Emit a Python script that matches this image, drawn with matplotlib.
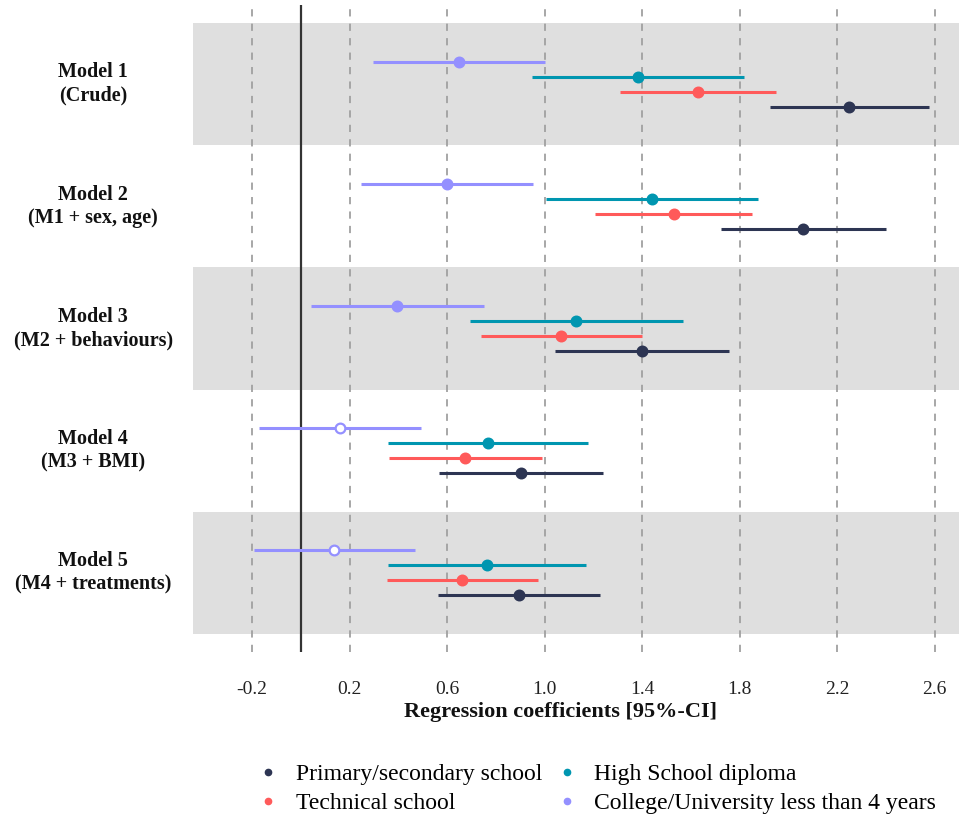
import matplotlib
matplotlib.use("Agg")
import matplotlib.pyplot as plt
from matplotlib.lines import Line2D
import numpy as np

models = ["Model 1\n(Crude)", "Model 2\n(M1 + sex, age)", "Model 3\n(M2 + behaviours)",
          "Model 4\n(M3 + BMI)", "Model 5\n(M4 + treatments)"]
groups = ["Primary/secondary school", "Technical school", "High School diploma",
          "College/University less than 4 years"]
colors = ["#2d3553", "#ff5a5a", "#0096b0", "#9490ff"]

# estimates per group for models 1..5
est_primary = [2.250, 2.061, 1.398, 0.902, 0.895]
lo_primary  = [1.925, 1.724, 1.043, 0.567, 0.562]
hi_primary  = [2.576, 2.399, 1.755, 1.240, 1.229]

est_technical = [1.629, 1.529, 1.067, 0.675, 0.663]
lo_technical  = [1.310, 1.208, 0.739, 0.362, 0.353]
hi_technical  = [1.951, 1.852, 1.401, 0.988, 0.973]

est_highschool = [1.384, 1.440, 1.131, 0.769, 0.764]
lo_highschool  = [0.950, 1.007, 0.696, 0.358, 0.358]
hi_highschool  = [1.820, 1.875, 1.568, 1.179, 1.172]

est_college = [0.648, 0.601, 0.395, 0.160, 0.137]
lo_college  = [0.296, 0.247, 0.040, -0.173, -0.193]
hi_college  = [1.002, 0.954, 0.750, 0.492, 0.469]

# significance (filled marker) flags
sig_primary    = [True, True, True, True, True]
sig_technical  = [True, True, True, True, True]
sig_highschool = [True, True, True, True, True]
sig_college    = [True, True, True, False, False]

xticks = [-0.2, 0.2, 0.6, 1.0, 1.4, 1.8, 2.2, 2.6]

data = [
    (est_primary, lo_primary, hi_primary, sig_primary),
    (est_technical, lo_technical, hi_technical, sig_technical),
    (est_highschool, lo_highschool, hi_highschool, sig_highschool),
    (est_college, lo_college, hi_college, sig_college),
]
offsets = [0.184, 0.061, -0.061, -0.184]

serif = ["Liberation Serif", "DejaVu Serif"]

fig = plt.figure(figsize=(9.59, 8.16), dpi=100)
W, H = 959, 816
ax = fig.add_axes([193 / W, 1 - 652 / H, (959 - 193) / W, (652 - 5) / H])

exp = 18 / 122.2
ax.set_ylim(5.5 + exp, 0.5 - exp)
ax.set_xlim(-0.442, 2.70)

for i in range(5):
    if i % 2 == 0:
        ax.axhspan(i + 0.5, i + 1.5, color="#dfdfdf", zorder=0, lw=0)

for xt in xticks:
    ax.axvline(xt, color="#a0a0a0", lw=1.3, ls=(0, (4, 4)), zorder=1)
ax.axvline(0, color="#333333", lw=1.6, zorder=2)

for gi, (est, lo, hi, sig) in enumerate(data):
    for mi in range(5):
        y = mi + 1 + offsets[gi]
        ax.plot([lo[mi], hi[mi]], [y, y], color=colors[gi], lw=2.2, zorder=3,
                solid_capstyle="butt")
        ax.plot(est[mi], y, "o", ms=7, mec=colors[gi], mew=1.6,
                mfc=colors[gi] if sig[mi] else "white", zorder=4)

for s in ax.spines.values():
    s.set_visible(False)

ax.set_xticks(xticks)
ax.set_xticklabels([f"{v:.1f}" for v in xticks], fontfamily=serif, fontsize=14)
ax.tick_params(axis="x", length=0, pad=21, colors="#222222")
ax.set_yticks([1, 2, 3, 4, 5])
ax.set_yticklabels([])
ax.tick_params(axis="y", length=0)

for mi, lab in enumerate(models):
    ax.text(-0.442 - 100 / 244, mi + 1, lab, ha="center", va="center",
            fontfamily=serif, fontweight="bold", fontsize=14.5, linespacing=1.22,
            color="#111111")

fig.text(561 / W, 1 - 712 / H, "Regression coefficients [95%-CI]", ha="center", va="center",
         fontfamily=serif, fontweight="bold", fontsize=16, color="#111111")

handles = [Line2D([], [], ls="none", marker="o", ms=4.5, color=c) for c in colors]
leg = fig.legend(handles, groups, ncol=2, loc="center", bbox_to_anchor=(595 / W, 1 - 789 / H),
                 frameon=False, prop={"family": serif, "size": 17}, handletextpad=0.55,
                 columnspacing=0.45, labelspacing=0.3, handlelength=1.2)

fig.savefig("out.png", dpi=100)
